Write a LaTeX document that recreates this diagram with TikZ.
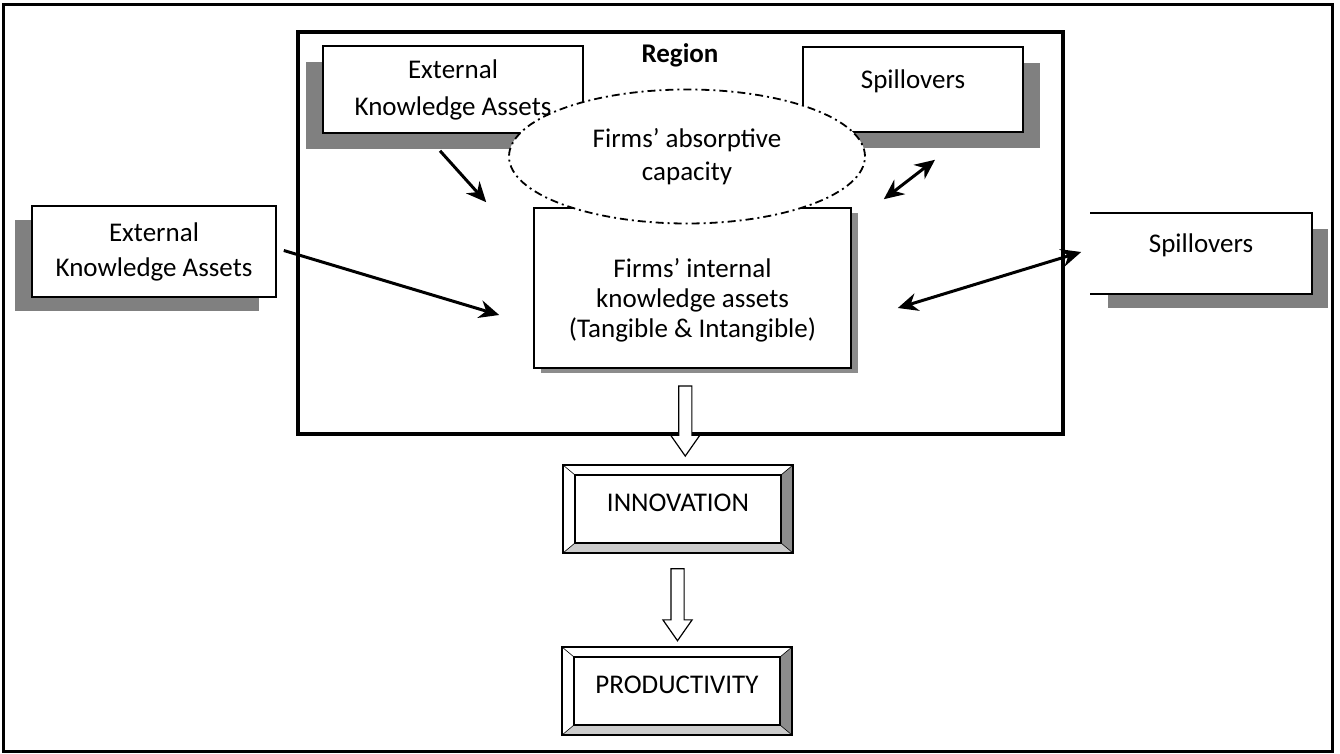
\documentclass[tikz,border=0pt]{standalone}
\usepackage{fontspec}
\setmainfont{Carlito}
\usetikzlibrary{shapes.geometric, shapes.arrows, shadows, arrows.meta, calc}
\tikzset{%
    % Frames and boxes
    pageframe/.style = {draw, rectangle, inner sep=0pt},
    kbox/.style      = {draw, rectangle, fill=white, line width=1.6pt,
    align=center, inner sep=0pt},
    % Grey shadows
    shadowleft/.style  = {drop shadow={shadow xshift=-17pt, shadow yshift=-16pt,
    fill=black!50, opacity=1}},
    shadowright/.style = {drop shadow={shadow xshift=17pt, shadow yshift=-16pt,
    fill=black!50, opacity=1}},
    % Bevelled result boxes
    bevel/.style = {draw, rectangle, fill=white, line width=2.2pt,
    minimum width=230pt, minimum height=88pt, text depth=12pt,
    path picture={
      \coordinate (nw) at (path picture bounding box.north west);
      \coordinate (ne) at (path picture bounding box.north east);
      \coordinate (sw) at (path picture bounding box.south west);
      \coordinate (se) at (path picture bounding box.south east);
      \fill[black!45] (se) -- (ne) -- ([shift={(-12pt,-10pt)}]ne)
        -- ([shift={(-12pt,10pt)}]se) -- cycle;
      \fill[black!20] (sw) -- (se) -- ([shift={(-12pt,10pt)}]se)
        -- ([shift={(12pt,10pt)}]sw) -- cycle;
      \draw[line width=1.2pt] ([shift={(12pt,10pt)}]sw)
        rectangle ([shift={(-12pt,-10pt)}]ne);
      \draw[line width=0.6pt] (nw) -- ++(12pt,-10pt) (ne) -- ++(-12pt,-10pt)
        (sw) -- ++(12pt,10pt) (se) -- ++(-12pt,10pt);
    }},
    % Hollow block arrows
    hollow/.style = {single arrow, draw, fill=white, line width=1.2pt,
    shape border rotate=270, inner sep=6pt, single arrow head extend=8pt,
    single arrow tip angle=70}
}

\begin{document}
\begin{tikzpicture}[x=1pt, y=-1pt,
  every node/.style={font=\fontsize{27}{33}\selectfont}]

	\tikzstyle{arc}=[line width=3pt, -{Stealth[length=20pt,width=18pt]}]
	\tikzstyle{darc}=[line width=3pt, {Stealth[length=20pt,width=18pt]}-{Stealth[length=20pt,width=18pt]}]
	\tikzstyle{absorb}=[ellipse, draw, fill=white, line width=1.8pt,
	dash pattern=on 8pt off 4pt on 2pt off 4pt, minimum width=356pt,
	minimum height=134pt, align=center, inner sep=0pt]

	\useasboundingbox (0,0) rectangle (1340,754);

	% frames
	\node[pageframe, line width=3pt, minimum width=1329pt, minimum height=746pt] (page) at (667.5,378) {};
	\node[pageframe, line width=4.5pt, minimum width=765pt, minimum height=402pt] (region) at (680.5,233) {};
	\node[font=\bfseries\fontsize{27}{30}\selectfont] (reglab) at (680,55) {Region};

	% knowledge boxes
	\node[kbox, shadowleft, minimum width=260pt, minimum height=87pt] (extin) at (453,89.5) {External\\[4pt]Knowledge Assets};
	\node[kbox, shadowright, minimum width=220pt, minimum height=85pt, text depth=21pt] (spillin) at (913,89.5) {Spillovers};
	\node[kbox, drop shadow={shadow xshift=-17pt, shadow yshift=-14pt, fill=black!50, opacity=1},
	      minimum width=244pt, minimum height=91pt] (extout) at (154,251.5) {External\\[2pt]Knowledge Assets};
	\node[kbox, draw=none, drop shadow={shadow xshift=17pt, shadow yshift=-15pt, fill=black!50, opacity=1},
	      minimum width=220pt, minimum height=79pt, text depth=21pt] (spillout) at (1201,253.5) {Spillovers};
	\draw[line width=1.6pt] (spillout.north west) -- (spillout.north east) -- (spillout.south east) -- (spillout.south west);
	\node[kbox, drop shadow={shadow xshift=7pt, shadow yshift=-5pt, fill=black!45, opacity=1},
	      minimum width=317pt, minimum height=160pt,
	      label={[align=center, yshift=-12pt]center:Firms’ internal\\[-3pt]knowledge assets\\[-3pt](Tangible \& Intangible)}] (internal) at (692.5,288) {};

	\node[absorb] (absorb) at (687,156.5) {Firms’ absorptive\\capacity};

	% arrows
	\draw[arc] ([shift={(-13,17)}]extin.south) -- ([shift={(-47,-5)}]internal.north west);
	\draw[arc] ([shift={(7,-1)}]extout.east) -- ([shift={(-34,27)}]internal.west);
	\draw[darc] ([shift={(32,-8)}]internal.north east) -- ([shift={(22,27)}]spillin.south);
	\draw[darc] ([shift={(46,20)}]internal.east) -- ([shift={(-9,-1.5)}]spillout.west);

	% results
	\node[bevel] (innov) at (678,509) {INNOVATION};
	\node[bevel] (prod) at (677,691) {PRODUCTIVITY};
	\node[hollow, minimum height=70pt] (down1) at ($(internal.south)!0.5!(innov.north)$) {};
	\node[hollow, minimum height=72pt] (down2) at ($(innov.south)!0.5!(prod.north)$) {};

\end{tikzpicture}
\end{document}
